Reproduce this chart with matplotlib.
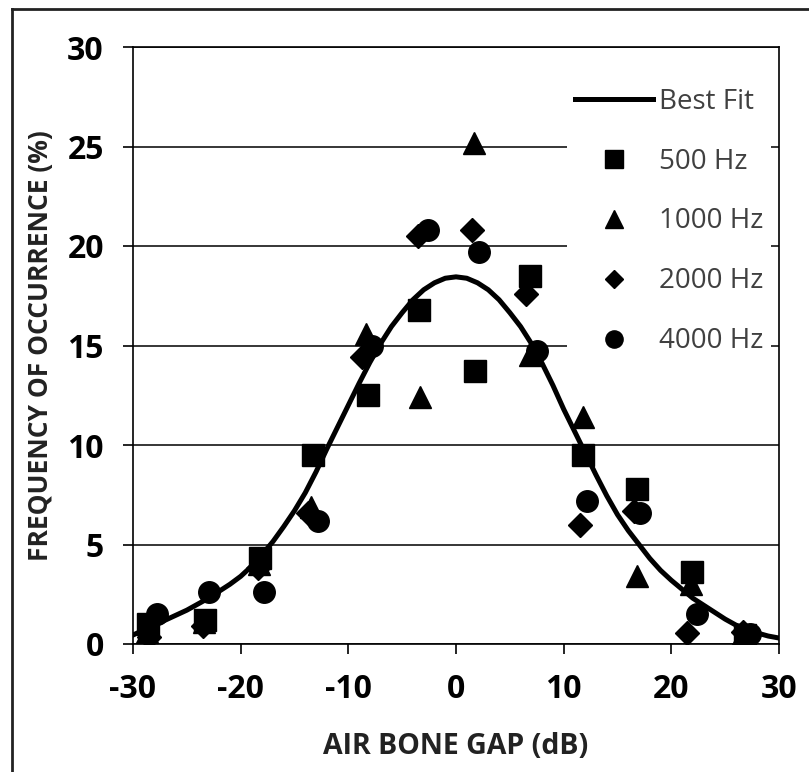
import matplotlib
matplotlib.use("Agg")
import matplotlib.pyplot as plt
from matplotlib.lines import Line2D

# best fit curve, every 1 dB
fit_x = list(range(-30, 31))
fit_y = [0.45, 0.7, 0.95, 1.2, 1.45, 1.7, 2.0, 2.3, 2.65, 3.0,
         3.4, 3.9, 4.5, 5.15, 5.9, 6.7, 7.6, 8.65, 9.8, 10.9,
         12.0, 13.1, 14.15, 15.1, 15.95, 16.65, 17.3, 17.8, 18.15, 18.38,
         18.45,
         18.38, 18.15, 17.8, 17.3, 16.65, 15.95, 15.1, 14.1, 13.0, 11.8,
         10.7, 9.6, 8.5, 7.45, 6.5, 5.7, 5.0, 4.3, 3.7, 3.2,
         2.75, 2.3, 1.95, 1.6, 1.25, 0.95, 0.75, 0.55, 0.4, 0.3]

# measured points per frequency
x500 = [-28.6, -23.3, -18.2, -13.3, -8.2, -3.4, 1.8, 6.9, 11.8, 16.8, 21.9, 26.8]
y500 = [1.0, 1.2, 4.3, 9.5, 12.5, 16.8, 13.7, 18.5, 9.5, 7.8, 3.6, 0.45]

x1000 = [-28.7, -23.4, -18.3, -13.5, -8.4, -3.3, 1.7, 6.9, 11.8, 16.8, 21.8, 26.5]
y1000 = [0.6, 1.1, 4.0, 6.9, 15.6, 12.4, 25.2, 14.5, 11.4, 3.4, 3.0, 0.3]

x2000 = [-28.5, -23.5, -18.4, -13.7, -8.7, -3.5, 1.5, 6.5, 11.5, 16.5, 21.5, 26.7]
y2000 = [0.35, 0.9, 3.8, 6.6, 14.4, 20.5, 20.8, 17.6, 6.0, 6.7, 0.55, 0.6]

x4000 = [-27.8, -22.9, -17.8, -12.8, -7.8, -2.6, 2.1, 7.5, 12.2, 17.1, 22.4, 27.3]
y4000 = [1.5, 2.6, 2.6, 6.2, 15.0, 20.8, 19.7, 14.7, 7.2, 6.6, 1.5, 0.5]

plt.rcParams["font.family"] = ["Open Sans", "DejaVu Sans"]
plt.rcParams["axes.unicode_minus"] = False

fig = plt.figure(figsize=(8.09, 7.72), dpi=100)
ax = fig.add_axes([133 / 809, 1 - 644 / 772, 646 / 809, 597 / 772])

ax.plot(fit_x, fit_y, color="black", lw=3.6, label="Best Fit", zorder=3)
ax.plot(x500, y500, "s", color="black", ms=15.5, label="500 Hz", zorder=4)
ax.plot(x1000, y1000, "^", color="black", ms=16, label="1000 Hz", zorder=4)
ax.plot(x2000, y2000, "D", color="black", ms=12, label="2000 Hz", zorder=4)
ax.plot(x4000, y4000, "o", color="black", ms=15.5, label="4000 Hz", zorder=4)

ax.set_xlim(-30, 30)
ax.set_ylim(0, 30)
ax.set_xticks(range(-30, 31, 10))
ax.set_yticks(range(0, 31, 5))
ax.yaxis.grid(True, color="black", lw=1.1)
ax.set_axisbelow(True)
for s in ax.spines.values():
    s.set_linewidth(1.2)
ax.tick_params(direction="out", length=7, width=1.2, pad=14, labelsize=23)
for lab in ax.get_xticklabels() + ax.get_yticklabels():
    lab.set_fontweight("bold")

leg = ax.legend(loc="upper left", bbox_to_anchor=(0.672, 0.946), fontsize=20,
                frameon=True, fancybox=False, framealpha=1, facecolor="white",
                edgecolor="white", handlelength=2.8, handletextpad=0.2,
                labelspacing=1.15, borderpad=0.3, markerscale=0.8, borderaxespad=0)
leg.get_frame().set_linewidth(0)
leg.set_zorder(2.2)
for t in leg.get_texts():
    t.set_color("#404040")

fig.text(456 / 809, 1 - 746 / 772, "AIR BONE GAP (dB)", ha="center", va="center",
         fontsize=20.5, fontweight="bold", color="#222222")
fig.text(41 / 809, 1 - 346 / 772, "FREQUENCY OF OCCURRENCE (%)", ha="center", va="center",
         rotation=90, fontsize=19, fontweight="bold", color="#222222")

# outer border of the image (cut off at right and bottom)
fig.add_artist(Line2D([12 / 809, 12 / 809], [0, 1 - 9 / 772], color="#222222", lw=2))
fig.add_artist(Line2D([12 / 809, 1], [1 - 9 / 772, 1 - 9 / 772], color="#222222", lw=2))

fig.savefig("out.png", dpi=100)
